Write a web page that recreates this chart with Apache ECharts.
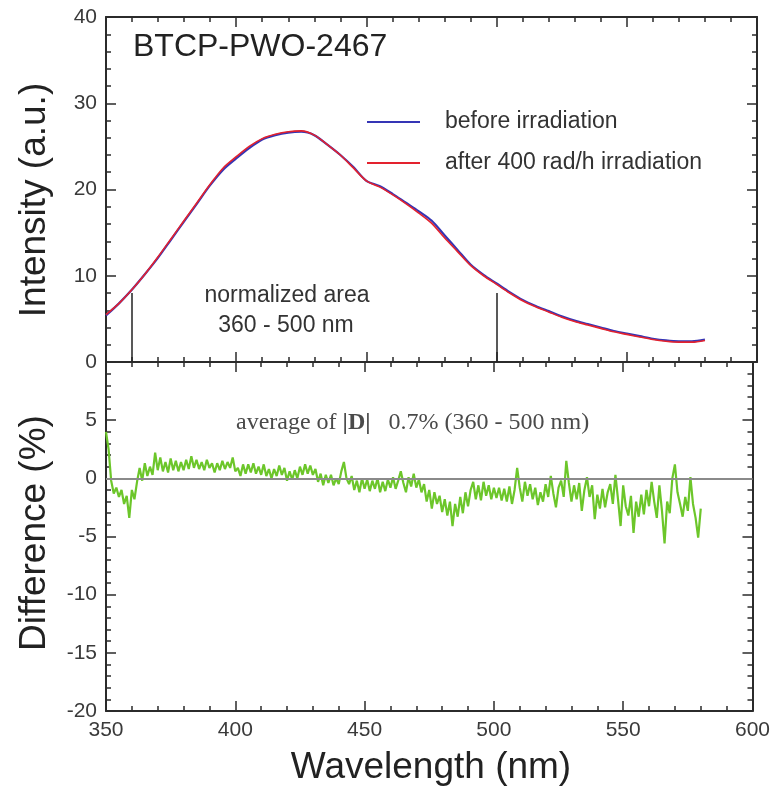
<!DOCTYPE html>
<html>
<head>
<meta charset="utf-8">
<script src="https://cdn.jsdelivr.net/npm/echarts@6/dist/echarts.min.js"></script>
<style>html,body{margin:0;padding:0;background:#fff}#main{width:773px;height:794px}</style>
</head>
<body>
<div id="main"></div>
<script>
// ---- data ----
const wavelength = [350,355,360,365,370,375,380,385,390,395,400,405,410,415,420,425,430,435,440,445,450,455,460,465,470,475,480,485,490,495,500,505,510,515,520,525,530,535,540,545,550,555,560,565,570,575,580];
const intensityAfter = [5.5,6.8,8.4,10.2,12.2,14.3,16.4,18.5,20.6,22.5,23.8,25.0,25.9,26.4,26.7,26.8,26.3,25.2,24.0,22.5,21.0,20.3,19.4,18.4,17.3,16.1,14.4,12.8,11.2,10.0,9.0,8.0,7.1,6.4,5.8,5.2,4.7,4.3,3.9,3.5,3.2,2.9,2.6,2.4,2.3,2.3,2.5];
const intensityBefore = [5.4,6.8,8.4,10.2,12.1,14.2,16.3,18.4,20.5,22.3,23.6,24.8,25.8,26.3,26.6,26.7,26.3,25.2,24.0,22.6,21.0,20.4,19.5,18.5,17.5,16.4,14.7,13.0,11.3,10.1,9.1,8.1,7.2,6.5,5.9,5.3,4.8,4.4,4.0,3.6,3.3,3.0,2.7,2.5,2.4,2.4,2.6];
// difference (%) sampled every 1 nm from 350 nm to 580 nm
const diffStart = 350;
const diffStep = 1;
const difference = [
  4.0, 2.5, -0.2, -1.3, -0.8, -1.6, -1.0, -2.2, -1.5, -3.4,
  -1.0, -1.8, -0.3, 0.9, -0.2, 1.3, 0.2, 1.0, 0.3, 2.2,
  0.7, 1.8, 0.6, 1.4, 0.5, 1.7, 0.7, 1.5, 0.6, 1.4,
  0.7, 1.6, 0.8, 1.9, 0.9, 1.6, 0.8, 1.4, 0.7, 1.6,
  0.9, 1.3, 0.5, 1.3, 0.7, 1.5, 0.8, 1.4, 0.9, 1.8,
  0.6, 0.9, 0.2, 1.2, 0.4, 1.2, 0.5, 1.3, 0.4, 1.0,
  0.3, 1.2, 0.2, 0.8, 0.0, 0.8, 0.2, 1.1, 0.3, 0.9,
  -0.2, 0.6, -0.1, 0.7, 0.0, 1.0, 0.3, 1.2, 0.4, 1.1,
  0.3, 0.8, -0.3, 0.4, -0.6, 0.3, -0.4, 0.3, -0.6, 0.0,
  -0.5, 0.6, 1.4, 0.0, -0.5, 0.2, -1.0, -0.2, -1.2, 0.0,
  -0.9, -0.1, -1.1, -0.2, -0.9, 0.0, -1.2, -0.3, -1.1, -0.1,
  -0.8, 0.1, -0.9, -0.2, 0.6, -0.4, -1.2, 0.1, -0.7, 0.4,
  -0.8, -0.1, -1.2, -0.5, -2.0, -1.0, -2.6, -1.2, -2.2, -1.5,
  -2.9, -1.8, -3.2, -2.0, -4.1, -2.2, -3.3, -1.6, -3.0, -1.2,
  -2.4, -1.0, -0.3, -1.8, -0.6, -1.9, -0.3, -1.5, -0.6, -1.8,
  -0.8, -1.7, -0.8, -1.9, -0.9, -2.0, -0.7, -2.2, -1.0, 0.9,
  -0.8, -2.0, -0.3, -1.5, -0.5, -1.8, -0.8, -2.3, -1.2, -2.0,
  -0.5, -1.6, 0.2, -1.3, -2.5, -0.8, -0.2, -1.6, 1.5, -0.4,
  -2.0, -0.6, -1.8, -0.4, -2.8, -1.0, 0.1, -1.6, -0.6, -3.5,
  -1.4, -2.6, -0.9, -2.5, -1.2, -0.5, -2.2, 0.3, -1.8, -4.1,
  -0.6, -2.4, -3.2, -1.5, -4.7, -2.0, -3.3, -1.4, -3.1, -1.0,
  -2.4, -0.3, -2.0, -3.4, -0.6, -2.8, -5.6, -2.0, -3.0, 0.0,
  1.2, -1.2, -2.2, -3.3, -1.6, -2.8, 0.1, -2.2, -3.4, -5.1,
  -2.6
];
const markerWavelengths = [360, 500];
const markerHeight = 8;
const xTicks = {min: 350, max: 600, interval: 50};
const yTopTicks = {min: 0, max: 40, interval: 10};
const yBottomTicks = {min: -20, max: 10, interval: 5};

// ---- chart ----
const chart = echarts.init(document.getElementById('main'), null, {renderer: 'canvas'});
const FONT = '"Liberation Sans", Arial, Helvetica, sans-serif';
const SERIF = '"Liberation Serif", "Times New Roman", serif';
const axisColor = '#2b2b2b';
const labelColor = '#3a3a3a';

function xAxis(gridIndex, position, showLabel) {
  return {
    type: 'value', gridIndex, position, min: xTicks.min, max: xTicks.max, interval: xTicks.interval,
    axisLine: {show: true, onZero: false, lineStyle: {color: axisColor, width: 2}},
    axisTick: {show: true, inside: true, length: 10, lineStyle: {color: axisColor, width: 1.5}},
    minorTick: {show: true, splitNumber: 5, length: 5, lineStyle: {color: axisColor, width: 1.5}},
    splitLine: {show: false},
    axisLabel: {show: showLabel, color: labelColor, fontFamily: FONT, fontSize: 21, margin: 9}
  };
}
function yAxis(gridIndex, position, t, showLabel, showMax) {
  return {
    type: 'value', gridIndex, position, min: t.min, max: t.max, interval: t.interval,
    axisLine: {show: true, onZero: false, lineStyle: {color: axisColor, width: 2}},
    axisTick: {show: true, inside: true, length: 10, lineStyle: {color: axisColor, width: 1.5}},
    minorTick: {show: true, splitNumber: 5, length: 5, lineStyle: {color: axisColor, width: 1.5}},
    splitLine: {show: false},
    axisLabel: {show: showLabel, color: labelColor, fontFamily: FONT, fontSize: 21, margin: 9, showMaxLabel: showMax}
  };
}

const zip = (xs, ys) => xs.map((x, i) => [x, ys[i]]);
const diffData = difference.map((v, i) => [diffStart + i * diffStep, v]);

chart.setOption({
  animation: false,
  backgroundColor: '#fff',
  grid: [
    {left: 106, right: 16, top: 17, height: 345},
    {left: 106, right: 16, top: 362, height: 349}
  ],
  xAxis: [
    xAxis(0, 'bottom', false),
    xAxis(0, 'top', false),
    xAxis(1, 'bottom', true),
    xAxis(1, 'top', false)
  ],
  yAxis: [
    yAxis(0, 'left', yTopTicks, true, true),
    yAxis(0, 'right', yTopTicks, false, true),
    yAxis(1, 'left', yBottomTicks, true, false),
    yAxis(1, 'right', yBottomTicks, false, false)
  ],
  series: [
    {
      name: 'markers', type: 'line', xAxisIndex: 0, yAxisIndex: 0, data: [], silent: true,
      markLine: {
        symbol: 'none', silent: true, label: {show: false},
        lineStyle: {color: '#222', width: 1.5, type: 'solid'},
        data: markerWavelengths.map(w => [{coord: [w, 0]}, {coord: [w, markerHeight]}])
      }
    },
    {
      name: 'before irradiation', type: 'line', xAxisIndex: 0, yAxisIndex: 0,
      data: zip(wavelength, intensityBefore), showSymbol: false, smooth: 0.3,
      lineStyle: {color: '#3535b5', width: 2.2}, itemStyle: {color: '#3535b5'}
    },
    {
      name: 'after 400 rad/h irradiation', type: 'line', xAxisIndex: 0, yAxisIndex: 0,
      data: zip(wavelength, intensityAfter), showSymbol: false, smooth: 0.3,
      lineStyle: {color: '#e3222e', width: 1.6}, itemStyle: {color: '#e3222e'}
    },
    {
      name: 'difference', type: 'line', xAxisIndex: 2, yAxisIndex: 2,
      data: diffData, showSymbol: false,
      lineStyle: {color: '#6cc62a', width: 2.2}, itemStyle: {color: '#6cc62a'},
      markLine: {
        symbol: 'none', silent: true, label: {show: false},
        lineStyle: {color: '#8a8a8a', width: 2, type: 'solid'},
        data: [{yAxis: 0}]
      },
      z: 3
    }
  ],
  graphic: [
    {type: 'text', left: 133, top: 31, style: {text: 'BTCP-PWO-2467', font: '32px ' + FONT, fill: '#222'}},
    {type: 'line', shape: {x1: 367, y1: 122, x2: 420, y2: 122}, style: {stroke: '#3535b5', lineWidth: 2}},
    {type: 'line', shape: {x1: 367, y1: 163, x2: 420, y2: 163}, style: {stroke: '#e3222e', lineWidth: 2}},
    {type: 'text', x: 445, y: 122, style: {text: 'before irradiation', font: '23px ' + FONT, fill: '#333', verticalAlign: 'middle'}},
    {type: 'text', x: 445, y: 163, style: {text: 'after 400 rad/h irradiation', font: '23px ' + FONT, fill: '#333', verticalAlign: 'middle'}},
    {type: 'text', x: 287, y: 296, style: {text: 'normalized area', font: '23px ' + FONT, fill: '#333', align: 'center', verticalAlign: 'middle'}},
    {type: 'text', x: 286, y: 326, style: {text: '360 - 500 nm', font: '23px ' + FONT, fill: '#333', align: 'center', verticalAlign: 'middle'}},
    {type: 'text', x: 236, y: 423, style: {
      text: '{a|average of }{b||D|}{a|   0.7% (360 - 500 nm)}', verticalAlign: 'middle',
      rich: {a: {font: '24px ' + SERIF, fill: '#4a4a4a'}, b: {font: 'bold 24px ' + SERIF, fill: '#4a4a4a'}}
    }},
    {type: 'text', x: 35, y: 200, rotation: Math.PI / 2, style: {text: 'Intensity (a.u.)', font: '37px ' + FONT, fill: '#222', align: 'center', verticalAlign: 'middle'}},
    {type: 'text', x: 35, y: 533, rotation: Math.PI / 2, style: {text: 'Difference (%)', font: '37px ' + FONT, fill: '#222', align: 'center', verticalAlign: 'middle'}},
    {type: 'text', x: 431, y: 768, style: {text: 'Wavelength (nm)', font: '37px ' + FONT, fill: '#222', align: 'center', verticalAlign: 'middle'}}
  ]
});
</script>
</body>
</html>
